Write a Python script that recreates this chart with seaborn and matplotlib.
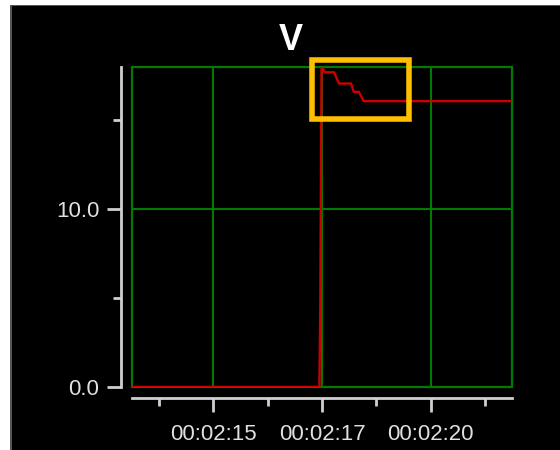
import numpy as np
import pandas as pd
import matplotlib
matplotlib.use("Agg")
import matplotlib.pyplot as plt
from matplotlib.patches import Rectangle
import seaborn as sns

# --- data (time in seconds after 00:02:00) ---
t_sec = [13.12, 17.44, 17.46, 17.48, 17.49, 17.56, 17.78, 17.89, 18.17, 18.23, 18.35, 18.46, 21.88]
volts = [0.0, 0.0, 4.5, 13.6, 18.1, 17.7, 17.7, 17.07, 17.07, 16.6, 16.6, 16.08, 16.08]

x_major = [15.0, 17.5, 20.0]
x_labels = ["00:02:15", "00:02:17", "00:02:20"]
x_minor = [13.75, 16.25, 18.75, 21.25]
y_major = [0.0, 10.0]
y_labels = ["0.0", "10.0"]
y_minor = [5.0, 15.0]

df = pd.DataFrame({"t": t_sec, "V": volts})

sns.set_style("dark", rc={"axes.facecolor": "black", "figure.facecolor": "black",
                          "xtick.bottom": True, "ytick.left": True})
plt.rcParams["font.family"] = ["Liberation Sans", "DejaVu Sans"]

GREEN = "#007a00"
RED = "#cc0000"
AXIS = "#cfcfcf"

fig = plt.figure(figsize=(5.6, 4.5), dpi=100)
ax = fig.add_axes([132 / 560, 63 / 450, 380 / 560, 320 / 450])

sns.lineplot(data=df, x="t", y="V", ax=ax, color=RED, linewidth=1.7, zorder=5)

ax.set_xlim(13.125, 21.875)
ax.set_ylim(0, 18)

ax.set_xticks(x_major)
ax.set_xticklabels(x_labels)
ax.set_xticks(x_minor, minor=True)
ax.set_yticks(y_major)
ax.set_yticklabels(y_labels)
ax.set_yticks(y_minor, minor=True)
ax.set_xlabel("")
ax.set_ylabel("")

ax.grid(True, which="major", color=GREEN, linewidth=1.5, zorder=1)
ax.grid(False, which="minor")
ax.set_axisbelow(True)

# green plot frame
ax.add_patch(Rectangle((0, 0), 1, 1, transform=ax.transAxes, fill=False,
                       edgecolor=GREEN, linewidth=1.6, zorder=2, clip_on=False))

# detached light-grey axes
for side in ["top", "right"]:
    ax.spines[side].set_visible(False)
for side in ["left", "bottom"]:
    ax.spines[side].set_visible(True)
    ax.spines[side].set_color(AXIS)
    ax.spines[side].set_linewidth(2)
    ax.spines[side].set_position(("outward", 8))

ax.tick_params(axis="both", which="both", bottom=True, left=True, top=False, right=False)
ax.tick_params(axis="both", which="major", length=10, width=2, color=AXIS,
               labelcolor="#e0e0e0", labelsize=16, direction="out")
ax.tick_params(axis="both", which="minor", length=6, width=2, color=AXIS,
               direction="out")
ax.tick_params(axis="x", which="major", pad=8.5)
ax.tick_params(axis="y", which="major", pad=5.5)

# highlight box around the overshoot
ax.add_patch(Rectangle((17.27, 15.1), 2.23, 3.27, fill=False, edgecolor="#ffbf00",
                       linewidth=4, zorder=6, clip_on=False))

fig.text(291 / 560, 1 - 40 / 450, "V", color="white", fontsize=26,
         fontweight="bold", ha="center", va="center")

# window border (white strips with a grey edge)
fig.patches.append(Rectangle((0, 0), 10 / 560, 1, transform=fig.transFigure,
                             facecolor="white", edgecolor="none"))
fig.patches.append(Rectangle((0, 1 - 5 / 450), 1, 5 / 450, transform=fig.transFigure,
                             facecolor="white", edgecolor="none"))
fig.patches.append(Rectangle((10 / 560, 0), 2 / 560, 1 - 5 / 450, transform=fig.transFigure,
                             facecolor="#555555", edgecolor="none"))
fig.patches.append(Rectangle((10 / 560, 1 - 6 / 450), 1, 1 / 450, transform=fig.transFigure,
                             facecolor="#555555", edgecolor="none"))

fig.savefig("out.png", dpi=100, facecolor=fig.get_facecolor())
